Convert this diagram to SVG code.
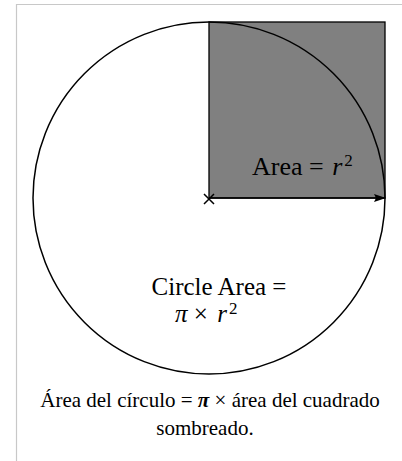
<svg xmlns="http://www.w3.org/2000/svg" width="402" height="461" viewBox="0 0 402 461">
<style>
.t{font-family:"Liberation Serif","Times New Roman",serif;fill:#000}
.ln{fill:none;stroke:#000;stroke-width:1.5}
.sup{font-size:17px}
</style>
<defs>
<marker id="ah" viewBox="0 0 12 10" refX="11" refY="5" markerWidth="12" markerHeight="10" markerUnits="userSpaceOnUse" orient="auto">
<path d="M0,1 L12,5 L0,9 L2,5 Z" fill="#000"/>
</marker>
</defs>
<rect width="402" height="461" fill="#fff"/>
<path d="M16.5,461 V4.5 H402" fill="none" stroke="#c8c8c8" stroke-width="1.2"/>
<g id="square">
<rect x="209" y="22" width="176" height="176" fill="#808080" stroke="#000" stroke-width="1.3"/>
<text class="t" x="252" y="175" font-size="26">Area = <tspan font-style="italic" dx="2">r</tspan><tspan class="sup" dx="2" dy="-9">2</tspan></text>
</g>
<g id="circle">
<circle cx="209" cy="198" r="176" class="ln"/>
<text class="t" x="219" y="295" font-size="25" text-anchor="middle">Circle Area =</text>
<text class="t" x="175" y="322" font-size="25"><tspan font-style="italic">π</tspan> × <tspan font-style="italic" dx="3">r</tspan><tspan class="sup" dx="2" dy="-8">2</tspan></text>
</g>
<g id="connectors">
<line x1="209" y1="198" x2="385" y2="198" class="ln" marker-end="url(#ah)"/>
<path d="M204,194 L214,204 M214,194 L204,204" class="ln" stroke-width="2"/>
</g>
<g id="caption">
<text class="t" x="210" y="407" font-size="21" text-anchor="middle">Área del círculo = <tspan font-weight="bold" font-style="italic">π</tspan> × área del cuadrado</text>
<text class="t" x="205" y="435" font-size="21" text-anchor="middle">sombreado.</text>
</g>
</svg>
